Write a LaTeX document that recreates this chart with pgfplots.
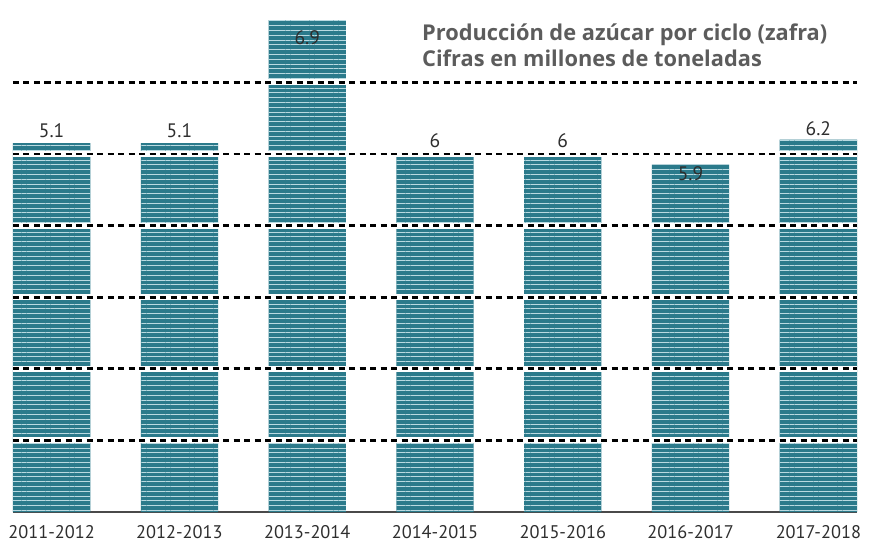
\documentclass[border=0pt]{standalone}
\usepackage{fontspec}
\setmainfont{PT Sans}
\newfontfamily\titlefont{Open Sans}
\usepackage{pgfplots}
\pgfplotsset{compat=1.18}
\usepackage{pgfplotstable}
\usetikzlibrary{patterns.meta}
\definecolor{barteal}{HTML}{2B7A8B}
\definecolor{stripe}{HTML}{B9DAE1}
\definecolor{txt}{HTML}{2E2E2E}
\definecolor{ttl}{HTML}{5C5C5C}
\definecolor{base}{HTML}{4A4A4A}

% bar heights as drawn in the printed chart (printed labels in column lab)
\pgfplotstableread{
x h
0 5.15
1 5.15
2 6.87
3 4.96
4 4.96
5 4.85
6 5.20
}\bars
\pgfplotstableread{
x y lab
0 5.33 5.1
1 5.33 5.1
2 6.62 6.9
3 5.18 6
4 5.18 6
5 4.72 5.9
6 5.36 6.2
}\labs

\begin{document}
\begin{tikzpicture}
\begin{axis}[
  at={(13pt,32pt)}, anchor=south west,
  scale only axis, width=844pt, height=512pt,
  xmin=-0.3025, xmax=6.3025, ymin=0, ymax=7.15,
  axis x line*=bottom, axis y line=none,
  x axis line style={draw=base, line width=1.5pt},
  xtick={0,...,6},
  xticklabels={2011-2012,2012-2013,2013-2014,2014-2015,2015-2016,2016-2017,2017-2018},
  xtick style={draw=none},
  ytick=\empty,
  xticklabel style={font=\fontsize{18.3}{21}\selectfont, text=txt, anchor=base, inner sep=0pt, yshift=-26.8pt},
]
\addplot[ybar, bar width=0.605, draw=none, fill=barteal,
  postaction={pattern={Lines[distance=4.8pt, angle=0, line width=0.9pt]}, pattern color=stripe}]
  table[x=x, y=h]{\bars};
\pgfplotsinvokeforeach{1,...,6}{
  \draw[white, line width=6pt] (axis cs:-0.3025,#1) -- (axis cs:6.3025,#1);
  \draw[black, line width=2.8pt, dash pattern=on 6pt off 4.5pt] (axis cs:-0.3025,#1) -- (axis cs:6.3025,#1);
}
\addplot[draw=none, mark=none, nodes near coords, point meta=explicit symbolic,
  nodes near coords style={anchor=center, font=\fontsize{19.5}{22}\selectfont, text=txt}]
  table[x=x, y=y, meta=lab]{\labs};
\end{axis}
\node[anchor=base west, text=ttl, font=\titlefont\bfseries\fontsize{21.8}{24}\selectfont, inner sep=0pt] at (422pt,503.3pt) {Producción de azúcar por ciclo (zafra)};
\node[anchor=base west, text=ttl, font=\titlefont\bfseries\fontsize{21.8}{24}\selectfont, inner sep=0pt] at (422pt,477.3pt) {Cifras en millones de toneladas};
\pgfresetboundingbox
\useasboundingbox (0,0) rectangle (870pt,544pt);
\end{tikzpicture}
\end{document}
